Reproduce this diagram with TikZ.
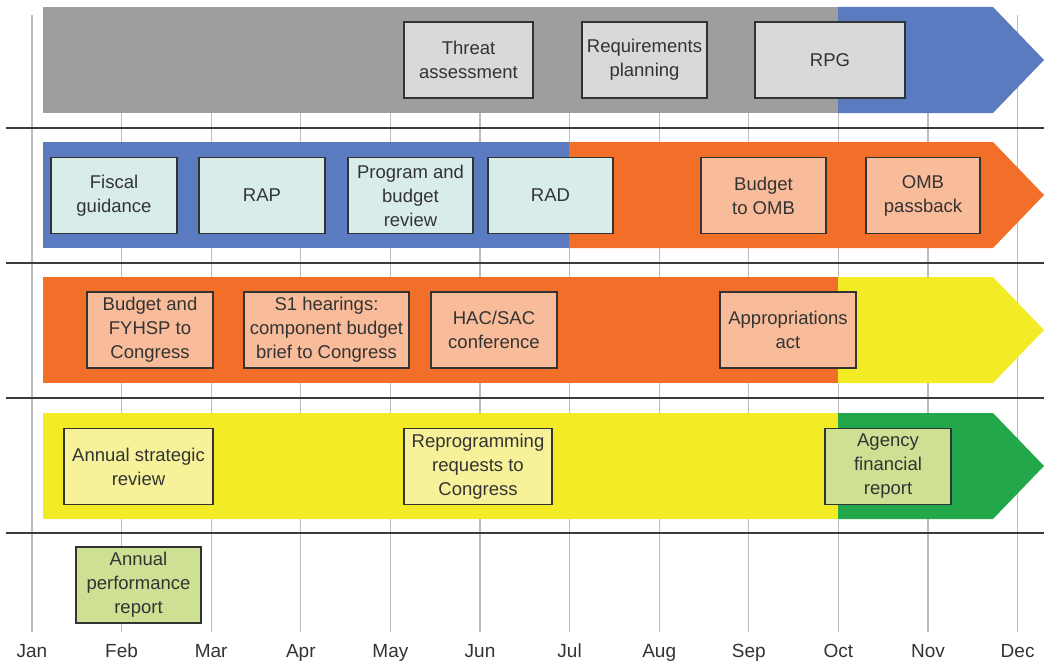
\documentclass[tikz,border=0pt]{standalone}
\usepackage{fontspec}
\setsansfont{Liberation Sans}
\usepackage{tikz}
\usetikzlibrary{positioning}
\definecolor{bandgray}{HTML}{9E9E9F}
\definecolor{bandblue}{HTML}{5A7BBF}
\definecolor{bandorange}{HTML}{F26F29}
\definecolor{bandyellow}{HTML}{F4EB27}
\definecolor{bandgreen}{HTML}{22A84B}
\definecolor{boxgray}{HTML}{D9D9D9}
\definecolor{boxblue}{HTML}{D9ECEC}
\definecolor{boxorange}{HTML}{F9BC9A}
\definecolor{boxyellow}{HTML}{F7F29A}
\definecolor{boxgreen}{HTML}{CEE093}
\definecolor{boxline}{HTML}{333333}
\definecolor{gridgray}{HTML}{BDBDBD}
\definecolor{rowline}{HTML}{3A3A3A}

\begin{document}
\begin{tikzpicture}[
x=1pt,y=-1pt,
MyBox/.style={draw=boxline,line width=1.2pt,minimum height=76pt,inner sep=0pt,align=center,
  text=boxline,font=\sffamily\fontsize{18.5}{24}\selectfont},
GridLine/.style={gridgray,line width=1.3pt},
RowLine/.style={rowline,line width=1.6pt},
MonthLabel/.style={anchor=base,text=boxline,font=\sffamily\fontsize{19}{23}\selectfont}
]
\useasboundingbox (0,0) rectangle (1044,661);

% month grid
\foreach \m [count=\i from 0] in {Jan,Feb,Mar,Apr,May,Jun,Jul,Aug,Sep,Oct,Nov,Dec}{
  \draw[GridLine] (32+89.6*\i,15) -- (32+89.6*\i,632);
  \node[MonthLabel] (month\i) at (32+89.6*\i,657) {\m};
}

% rows
\foreach \y in {128,263,398,533}
  \draw[RowLine] (6,\y) -- (1044,\y);

% Feel free to change here the split month of each band
\foreach \Top/\Split/\Left/\Right in {7/838/bandgray/bandblue,142/569/bandblue/bandorange,
  277/838/bandorange/bandyellow,413/838/bandyellow/bandgreen}{
  \fill[\Left] (43,\Top) rectangle (\Split,\Top+106);
  \fill[\Right] (\Split,\Top) -- (993,\Top) -- (1044,\Top+53) -- (993,\Top+106) -- (\Split,\Top+106) -- cycle;
}

% first band
\node[MyBox,fill=boxgray,minimum width=129pt] (threat) at (468.5,60) {Threat\\assessment};
\node[MyBox,fill=boxgray,minimum width=125pt] (reqplan) at (644.5,60) {Requirements\\planning};
\node[MyBox,fill=boxgray,minimum width=150pt] (rpg) at (830,60) {RPG};

% second band
\node[MyBox,fill=boxblue,minimum width=126pt] (fiscal) at (114,195.5) {Fiscal\\guidance};
\node[MyBox,fill=boxblue,minimum width=126pt] (rap) at (262,195.5) {RAP};
\node[MyBox,fill=boxblue,minimum width=125pt] (progrev) at (410.5,195.5) {Program and\\budget\\review};
\node[MyBox,fill=boxblue,minimum width=125pt] (rad) at (550.5,195.5) {RAD};
\node[MyBox,fill=boxorange,minimum width=125pt] (budomb) at (763.5,195.5) {Budget\\to OMB};
\node[MyBox,fill=boxorange,minimum width=114pt] (ombpass) at (923,195.5) {OMB\\passback};

% third band
\node[MyBox,fill=boxorange,minimum width=126pt] (budcong) at (150,330) {Budget and\\FYHSP to\\Congress};
\node[MyBox,fill=boxorange,minimum width=165pt] (hearings) at (326.5,330) {S1 hearings:\\component budget\\brief to Congress};
\node[MyBox,fill=boxorange,minimum width=126pt] (hacsac) at (494,330) {HAC/SAC\\conference};
\node[MyBox,fill=boxorange,minimum width=136pt] (approp) at (788,330) {Appropriations\\act};

% fourth band
\node[MyBox,fill=boxyellow,minimum width=149pt] (strategic) at (138.5,466.5) {Annual strategic\\review};
\node[MyBox,fill=boxyellow,minimum width=148pt] (reprog) at (478,466.5) {Reprogramming\\requests to\\Congress};
\node[MyBox,fill=boxgreen,minimum width=126pt] (agency) at (888,466.5) {Agency\\financial\\report};

% below the bands
\node[MyBox,fill=boxgreen,minimum width=125pt] (perform) at (138.5,585) {Annual\\performance\\report};

\end{tikzpicture}
\end{document}
